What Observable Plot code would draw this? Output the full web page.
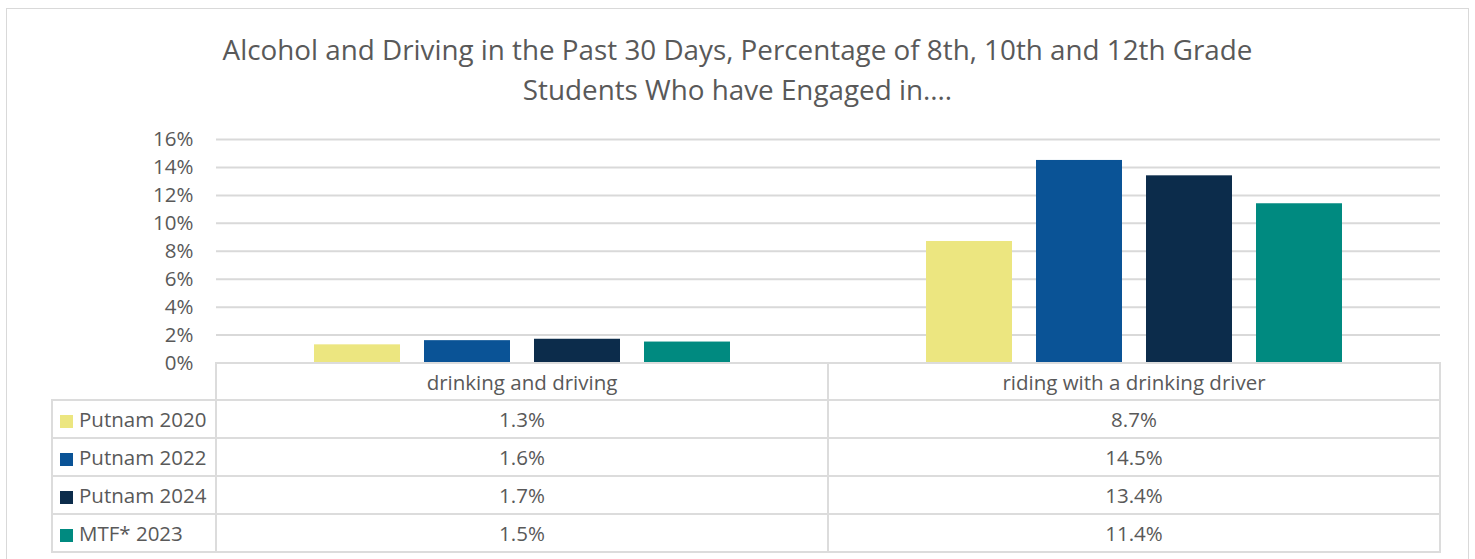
<!DOCTYPE html>
<html>
<head>
<meta charset="utf-8">
<script src="https://cdn.jsdelivr.net/npm/d3@7"></script>
<script src="https://cdn.jsdelivr.net/npm/@observablehq/plot@0.6"></script>
<style>
  html, body { margin: 0; padding: 0; background: #fff; }
  body { width: 1475px; height: 559px; position: relative; overflow: hidden; font-family: "Open Sans", sans-serif; color: #595959; }
  #frame { position: absolute; left: 6px; top: 8px; width: 1463px; height: 600px; border: 1.5px solid #d9d9d9; box-sizing: border-box; }
  #title { position: absolute; left: 0; top: 29px; width: 1475px; text-align: center; font-size: 27.8px; line-height: 40px; color: #595959; white-space: nowrap; }
  #title div { display: block; }
  #chart { position: absolute; left: 0; top: 0; }
  #tbl { position: absolute; left: 51px; top: 362px; border-collapse: collapse; font-size: 20.5px; color: #595959; }
  #tbl td { border: 2px solid #dcdcdc; text-align: center; padding: 0; height: 36px; line-height: 34px; }
  #tbl tr.head td { height: 35px; }
  #tbl td.leg { text-align: left; padding-left: 7px; width: 155px; white-space: nowrap; }
  #tbl td.blank { border: none; border-right: 2px solid #dcdcdc; }
  #tbl td.val { width: 610px; }
  .sw { display: inline-block; width: 13px; height: 13px; margin-right: 6px; vertical-align: -1px; }
</style>
</head>
<body>
<div id="frame"></div>
<div id="chart"></div>
<div id="title"><div>Alcohol and Driving in the Past 30 Days, Percentage of 8th, 10th and 12th Grade</div><div>Students Who have Engaged in....</div></div>
<table id="tbl"></table>
<script>
const categories = ["drinking and driving", "riding with a drinking driver"];
const seriesNames = ["Putnam 2020", "Putnam 2022", "Putnam 2024", "MTF* 2023"];
const putnam2020 = [1.3, 8.7];
const putnam2022 = [1.6, 14.5];
const putnam2024 = [1.7, 13.4];
const mtf2023 = [1.5, 11.4];
const colors = ["#ece680", "#0a5396", "#0c2c4b", "#008a80"];
const yTicks = [0, 2, 4, 6, 8, 10, 12, 14, 16];

const seriesValues = [putnam2020, putnam2022, putnam2024, mtf2023];
const data = [];
categories.forEach((c, ci) => {
  seriesNames.forEach((s, si) => {
    data.push({category: c, series: s, value: seriesValues[si][ci]});
  });
});

const chart = Plot.plot({
  width: 1475,
  height: 380,
  marginLeft: 216,
  marginRight: 35,
  marginTop: 139,
  marginBottom: 17.5,
  style: {fontFamily: "Open Sans, sans-serif", fontSize: "20.5px", color: "#595959", background: "transparent"},
  fx: {domain: categories, padding: 0, axis: null},
  x: {domain: seriesNames, paddingInner: 0.216, paddingOuter: 0.865, axis: null},
  y: {domain: [0, 16], ticks: yTicks, tickFormat: d => d + "%", tickSize: 0, tickPadding: 23, label: null},
  color: {domain: seriesNames, range: colors},
  marks: [
    Plot.ruleY(yTicks, {stroke: "#d9d9d9", strokeWidth: 2}),
    Plot.barY(data, {fx: "category", x: "series", y: "value", fill: "series"}),
    Plot.axisY({ticks: yTicks, tickFormat: d => d + "%", tickSize: 0, tickPadding: 23, label: null, fill: "#595959"})
  ]
});
document.getElementById("chart").appendChild(chart);

// data table
const tbl = document.getElementById("tbl");
let head = "<tr class='head'><td class='blank'></td>" + categories.map(c => `<td class='val'>${c}</td>`).join("") + "</tr>";
let rows = seriesNames.map((s, si) =>
  `<tr><td class='leg'><span class='sw' style='background:${colors[si]}'></span>${s}</td>` +
  categories.map((c, ci) => `<td class='val'>${seriesValues[si][ci].toFixed(1)}%</td>`).join("") + "</tr>"
).join("");
tbl.innerHTML = head + rows;
</script>
</body>
</html>
